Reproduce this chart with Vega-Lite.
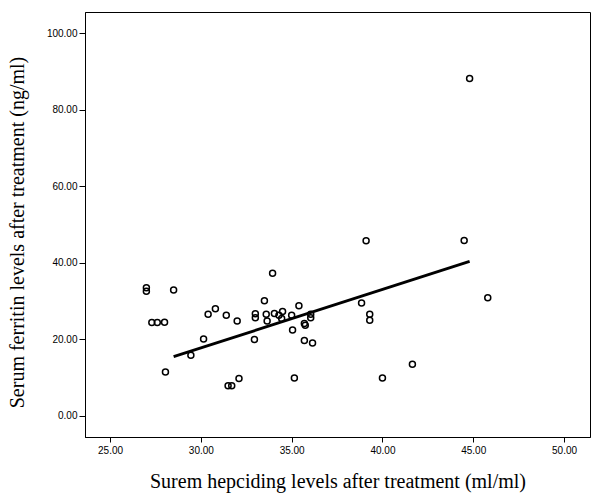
{
  "$schema": "https://vega.github.io/schema/vega-lite/v6.json",
  "autosize": "none",
  "width": 505,
  "height": 425,
  "padding": {"left": 85, "top": 12, "right": 8, "bottom": 57},
  "background": "white",
  "config": {"view": {"stroke": "black", "strokeWidth": 1}},
  "datasets": {
    "pts": [
      {"hepcidin": 27.0, "ferritin": 33.4}, {"hepcidin": 27.0, "ferritin": 32.5},
      {"hepcidin": 28.5, "ferritin": 32.8}, {"hepcidin": 33.95, "ferritin": 37.2},
      {"hepcidin": 33.5, "ferritin": 30.0}, {"hepcidin": 35.4, "ferritin": 28.7},
      {"hepcidin": 30.8, "ferritin": 27.9}, {"hepcidin": 30.4, "ferritin": 26.5},
      {"hepcidin": 31.4, "ferritin": 26.2}, {"hepcidin": 32.0, "ferritin": 24.7},
      {"hepcidin": 27.3, "ferritin": 24.3}, {"hepcidin": 27.6, "ferritin": 24.3},
      {"hepcidin": 28.0, "ferritin": 24.4}, {"hepcidin": 33.0, "ferritin": 26.6},
      {"hepcidin": 33.0, "ferritin": 25.6}, {"hepcidin": 33.6, "ferritin": 26.5},
      {"hepcidin": 33.65, "ferritin": 24.7}, {"hepcidin": 34.05, "ferritin": 26.7},
      {"hepcidin": 34.5, "ferritin": 27.2}, {"hepcidin": 34.3, "ferritin": 26.2},
      {"hepcidin": 34.45, "ferritin": 25.4}, {"hepcidin": 35.0, "ferritin": 26.2},
      {"hepcidin": 35.05, "ferritin": 22.4}, {"hepcidin": 35.7, "ferritin": 24.1},
      {"hepcidin": 35.75, "ferritin": 23.6}, {"hepcidin": 36.05, "ferritin": 26.5},
      {"hepcidin": 36.05, "ferritin": 25.6}, {"hepcidin": 35.7, "ferritin": 19.6},
      {"hepcidin": 36.15, "ferritin": 19.0}, {"hepcidin": 32.95, "ferritin": 19.9},
      {"hepcidin": 30.15, "ferritin": 20.0}, {"hepcidin": 29.45, "ferritin": 15.8},
      {"hepcidin": 28.05, "ferritin": 11.4}, {"hepcidin": 31.5, "ferritin": 7.8},
      {"hepcidin": 31.7, "ferritin": 7.8}, {"hepcidin": 32.1, "ferritin": 9.7},
      {"hepcidin": 35.15, "ferritin": 9.8}, {"hepcidin": 38.85, "ferritin": 29.4},
      {"hepcidin": 39.3, "ferritin": 26.5}, {"hepcidin": 39.3, "ferritin": 24.9},
      {"hepcidin": 40.0, "ferritin": 9.8}, {"hepcidin": 41.65, "ferritin": 13.4},
      {"hepcidin": 45.8, "ferritin": 30.8}, {"hepcidin": 39.1, "ferritin": 45.7},
      {"hepcidin": 44.5, "ferritin": 45.8}, {"hepcidin": 44.8, "ferritin": 88.1}
    ],
    "fit": [
      {"hepcidin": 28.5, "ferritin": 15.4},
      {"hepcidin": 44.8, "ferritin": 40.3}
    ]
  },
  "encoding": {
    "x": {
      "field": "hepcidin", "type": "quantitative",
      "scale": {"domain": [23.62, 51.43], "nice": false, "zero": false},
      "axis": {
        "values": [25, 30, 35, 40, 45, 50], "format": ".2f", "grid": false,
        "domainColor": "black", "tickColor": "black", "tickSize": 5,
        "labelFont": "Liberation Sans", "labelFontSize": 10, "labelColor": "black", "labelPadding": 3,
        "title": "Surem hepciding levels after treatment (ml/ml)",
        "titleFont": "Liberation Serif", "titleFontSize": 20, "titleFontWeight": "normal", "titleColor": "black",
        "titleY": 44, "titleBaseline": "middle"
      }
    },
    "y": {
      "field": "ferritin", "type": "quantitative",
      "scale": {"domain": [-5.6, 105.5], "nice": false, "zero": false},
      "axis": {
        "values": [0, 20, 40, 60, 80, 100], "format": ".2f", "grid": false,
        "domainColor": "black", "tickColor": "black", "tickSize": 6,
        "labelFont": "Liberation Sans", "labelFontSize": 10, "labelColor": "black", "labelPadding": 2,
        "title": "Serum ferritin levels after treatment (ng/ml)",
        "titleFont": "Liberation Serif", "titleFontSize": 20, "titleFontWeight": "normal", "titleColor": "black",
        "titleX": -68, "titleY": 220, "titleAngle": -90, "titleAlign": "center", "titleBaseline": "middle"
      }
    }
  },
  "layer": [
    {
      "data": {"name": "pts"},
      "mark": {"type": "point", "shape": "circle", "filled": false, "stroke": "black", "strokeWidth": 1.5, "size": 36, "opacity": 1}
    },
    {
      "data": {"name": "fit"},
      "mark": {"type": "line", "color": "black", "strokeWidth": 2.8}
    }
  ]
}
